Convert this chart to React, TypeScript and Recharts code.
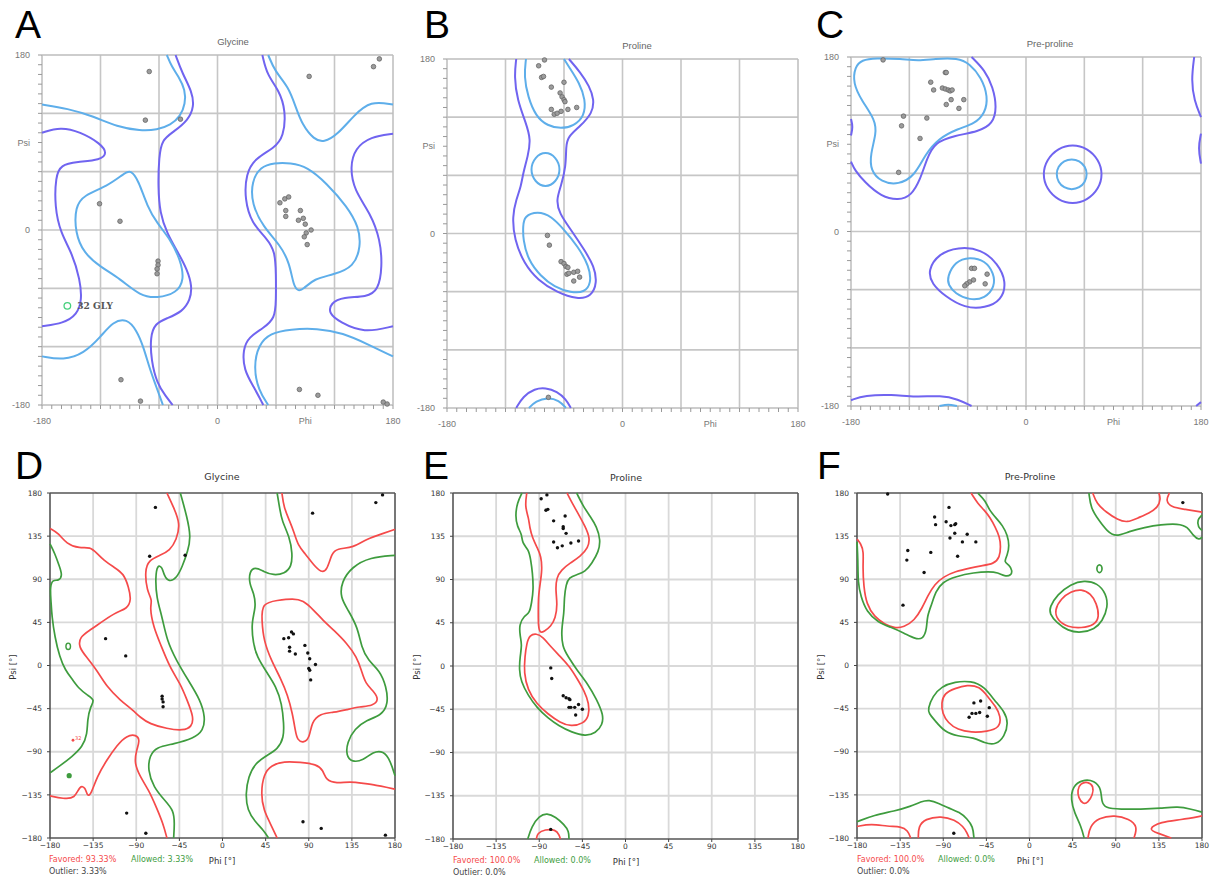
import React from "react";
import { ScatterChart, Scatter, XAxis, YAxis, ReferenceLine } from "recharts";

type Pt = [number, number];
type Contour = { pts: Pt[]; color: string; closed?: boolean };

// Contour colours: top row (PROCHECK-style) and bottom row (matplotlib-style)
const PURPLE = "#7064f0";
const SKY = "#5eaeea";
const RED = "#f54a4a";
const GREEN = "#3e9c3e";

const TOP_TICKS = [
  -180, -170, -160, -150, -140, -130, -120, -110, -100, -90, -80, -70, -60, -50, -40, -30, -20, -10,
  0, 10, 20, 30, 40, 50, 60, 70, 80, 90, 100, 110, 120, 130, 140, 150, 160, 170, 180,
];
const TOP_GRID = [-120, -60, 0, 60, 120];
const TOP_LABELED = [-180, 0, 180];
const BOTTOM_TICKS = [-180, -135, -90, -45, 0, 45, 90, 135, 180];
const BOTTOM_GRID = [-135, -90, -45, 0, 45, 90, 135];

// ---- A: Glycine ----
const A_SKY_TL: Pt[] = [[-180,129],[-154,125],[-127,117],[-103,106],[-79,102],[-62,103],[-48,108],[-38,117],[-33,130],[-33,144],[-40,158],[-47,168],[-52,180]];
const A_PURPLE_MID: Pt[] = [[-43,180],[-36,161],[-26,142],[-24,127],[-30,113],[-45,101],[-57,93],[-60,75],[-61,45],[-59,17],[-52,-3],[-40,-24],[-31,-41],[-26,-58],[-28,-72],[-36,-84],[-52,-91],[-64,-96],[-69,-110],[-68,-134],[-62,-158],[-53,-171],[-46,-180]];
const A_PURPLE_L: Pt[] = [[-180,-99],[-158,-96],[-144,-87],[-139,-72],[-141,-51],[-149,-24],[-161,-3],[-167,24],[-166,55],[-161,67],[-144,70],[-120,72],[-113,79],[-120,89],[-141,101],[-161,106],[-180,100]];
const A_SKY_L: Pt[] = [[-89,62],[-81,51],[-72,24],[-62,7],[-48,-10],[-38,-31],[-34,-51],[-42,-65],[-62,-70],[-79,-68],[-100,-50],[-120,-38],[-137,-24],[-146,-3],[-146,24],[-137,36],[-113,45],[-96,58]];
const A_SKY_BL: Pt[] = [[-180,-130],[-158,-134],[-137,-127],[-120,-110],[-107,-94],[-93,-91],[-83,-103],[-76,-120],[-70,-141],[-64,-158],[-56,-180]];
const A_PURPLE_R: Pt[] = [[46,180],[51,159],[63,144],[70,123],[68,96],[58,84],[39,74],[29,58],[28,31],[35,7],[51,-9],[59,-22],[60,-45],[60,-72],[59,-91],[47,-101],[32,-110],[26,-123],[27,-144],[37,-161],[47,-180]];
const A_SKY_R: Pt[] = [[58,69],[75,69],[92,65],[112,48],[133,24],[145,3],[147,-17],[140,-38],[119,-46],[99,-50],[88,-61],[83,-63],[78,-58],[74,-34],[64,-15],[47,3],[35,27],[35,50],[44,65]];
const A_SKY_TR: Pt[] = [[52,180],[59,163],[73,147],[80,127],[87,108],[99,93],[109,90],[123,98],[140,118],[157,133],[180,129]];
const A_PURPLE_RR: Pt[] = [[180,99],[157,96],[141,84],[136,65],[140,41],[157,17],[167,-10],[169,-38],[165,-62],[153,-69],[129,-69],[116,-75],[114,-86],[126,-95],[150,-106],[180,-99]];
const A_SKY_BR: Pt[] = [[180,-130],[153,-117],[129,-106],[102,-101],[75,-102],[54,-106],[42,-118],[37,-141],[42,-165],[52,-180]];
const A_DOTS: Pt[] = [[-70,163],[-74,113],[-38,114],[-121,27],[-100,9],[-61,-32],[-61,-36],[-62,-40],[-62,-45],[64,28],[69,32],[73,34],[70,20],[70,14],[85,20],[83,10],[88,12],[90,6],[96,0],[91,-3],[89,-7],[92,-15],[94,158],[160,168],[166,176],[84,-164],[103,-170],[170,-177],[174,-179],[-99,-154],[-79,-176]];
const A_OUTLIER: Pt[] = [[-154,-78]];

// ---- B: Proline ----
const B_PURPLE_TOP: Pt[] = [[-109,180],[-111,162],[-108,138],[-99,114],[-94,97],[-97,80],[-102,62],[-104,49],[-109,35],[-113,18],[-111,-6],[-101,-31],[-87,-48],[-67,-61],[-46,-68],[-32,-65],[-26,-51],[-29,-34],[-39,-17],[-53,4],[-65,21],[-68,35],[-63,49],[-58,69],[-58,90],[-56,100],[-43,111],[-31,124],[-29,138],[-34,152],[-43,166],[-55,180]];
const B_SKY_TOP: Pt[] = [[-99,180],[-101,162],[-97,141],[-89,121],[-77,111],[-63,108],[-50,111],[-39,121],[-38,138],[-44,155],[-55,172],[-60,180]];
const B_SKY_MID: Pt[] = [[-79,85],[-68,79],[-63,66],[-68,53],[-79,47],[-90,53],[-95,66],[-90,79]];
const B_SKY_LOW: Pt[] = [[-101,18],[-87,23],[-73,18],[-60,4],[-46,-13],[-34,-34],[-32,-51],[-39,-61],[-53,-61],[-70,-55],[-84,-44],[-97,-27],[-102,-6],[-102,7]];
const B_PURPLE_BOT: Pt[] = [[-109,-180],[-102,-168],[-90,-160],[-79,-159],[-67,-163],[-58,-171],[-53,-180]];
const B_SKY_BOT: Pt[] = [[-96,-180],[-89,-173],[-77,-169],[-65,-172],[-58,-180]];
const B_DOTS: Pt[] = [[-86,173],[-80,179],[-83,161],[-81,162],[-73,151],[-60,156],[-64,145],[-62,141],[-60,138],[-59,136],[-73,128],[-70,123],[-67,124],[-63,126],[-56,128],[-47,130],[-77,-2],[-75,-12],[-63,-29],[-60,-31],[-58,-34],[-56,-35],[-57,-42],[-55,-41],[-50,-40],[-46,-39],[-44,-45],[-50,-49],[-76,-169]];

// ---- C: Pre-proline ----
const C_SKY_TL: Pt[] = [[-176,170],[-178,153],[-169,135],[-155,115],[-154,101],[-160,80],[-160,63],[-149,51],[-131,48],[-114,58],[-104,79],[-90,96],[-70,106],[-53,111],[-42,122],[-39,139],[-46,159],[-58,173],[-70,179],[-94,178],[-111,176],[-128,178],[-155,179],[-169,177]];
const C_PURPLE_TL: Pt[] = [[-56,180],[-42,166],[-34,149],[-30,128],[-34,111],[-49,103],[-73,99],[-94,92],[-102,75],[-109,53],[-118,37],[-131,32],[-149,36],[-166,51],[-176,63],[-180,72]];
const C_PURPLE_EDGE_L: Pt[] = [[-180,116],[-178,108],[-180,99]];
const C_PURPLE_RING: Pt[] = [[79,59],[75,74],[63,86],[48,90],[33,86],[21,74],[17,59],[21,44],[33,32],[48,28],[63,32],[75,44]];
const C_SKY_RING: Pt[] = [[63,59],[61,67],[55,73],[47,75],[39,73],[33,67],[31,59],[33,51],[39,45],[47,43],[55,45],[61,51]];
const C_PURPLE_LOW: Pt[] = [[-101,-40],[-90,-23],[-70,-16],[-46,-18],[-29,-33],[-20,-52],[-25,-71],[-42,-79],[-63,-79],[-83,-67],[-97,-54]];
const C_SKY_LOW: Pt[] = [[-81,-47],[-73,-31],[-58,-26],[-42,-30],[-33,-43],[-32,-57],[-42,-69],[-58,-71],[-73,-64],[-80,-55]];
const C_PURPLE_BOT: Pt[] = [[-180,-174],[-166,-169],[-138,-168],[-114,-171],[-87,-169],[-70,-173],[-56,-180]];
const C_SKY_BOT: Pt[] = [[-89,-180],[-80,-178],[-71,-180]];
const C_PURPLE_EDGE_R1: Pt[] = [[173,180],[170,156],[173,135],[180,118]];
const C_PURPLE_EDGE_R2: Pt[] = [[180,101],[177,86],[180,70]];
const C_PURPLE_EDGE_R3: Pt[] = [[175,-180],[180,-176]];
const C_DOTS: Pt[] = [[-147,177],[-98,154],[-95,146],[-83,164],[-82,164],[-86,148],[-83,147],[-80,146],[-78,145],[-76,146],[-77,136],[-82,131],[-69,127],[-64,136],[-126,119],[-128,109],[-102,117],[-109,96],[-131,61],[-56,-38],[-53,-38],[-40,-44],[-42,-54],[-54,-50],[-58,-52],[-61,-54],[-63,-56]];

// ---- D: Glycine ----
const D_RED_L: Pt[] = [[-180,143],[-171,138],[-163,127],[-149,122],[-138,124],[-131,117],[-124,110],[-114,103],[-103,96],[-98,82],[-95,68],[-100,59],[-110,56],[-124,47],[-138,37],[-149,30],[-150,19],[-142,9],[-131,-5],[-121,-22],[-107,-36],[-93,-47],[-86,-54],[-76,-61],[-58,-66],[-41,-68],[-32,-64],[-30,-54],[-37,-36],[-44,-19],[-55,-2],[-65,23],[-72,40],[-76,61],[-73,68],[-79,78],[-81,99],[-77,110],[-65,115],[-55,120],[-48,131],[-44,148],[-51,165],[-58,180]];
const D_GREEN_MID: Pt[] = [[-44,180],[-37,155],[-33,134],[-36,120],[-42,103],[-48,91],[-56,87],[-61,94],[-63,103],[-68,105],[-70,92],[-69,71],[-63,51],[-58,26],[-48,5],[-36,-15],[-23,-36],[-18,-54],[-20,-68],[-30,-76],[-51,-82],[-69,-85],[-76,-94],[-78,-109],[-72,-127],[-60,-141],[-51,-151],[-50,-165],[-51,-180]];
const D_GREEN_L: Pt[] = [[-180,127],[-175,117],[-170,103],[-167,94],[-171,88],[-177,90],[-180,82],[-179,68],[-178,51],[-175,30],[-170,9],[-164,-5],[-157,-14],[-150,-24],[-141,-31],[-133,-36],[-138,-43],[-141,-57],[-141,-71],[-146,-85],[-157,-95],[-170,-105],[-180,-112]];
const D_RED_BL: Pt[] = [[-180,-136],[-166,-139],[-154,-139],[-149,-125],[-143,-127],[-141,-137],[-137,-134],[-131,-116],[-121,-99],[-110,-83],[-100,-73],[-90,-72],[-86,-78],[-90,-89],[-92,-102],[-86,-116],[-77,-130],[-69,-148],[-62,-165],[-58,-180]];
const D_RED_TR: Pt[] = [[62,180],[64,165],[70,151],[75,138],[79,125],[86,117],[95,105],[103,97],[109,99],[114,117],[119,122],[137,123],[150,132],[168,138],[180,142]];
const D_GREEN_R: Pt[] = [[57,180],[60,162],[62,151],[70,134],[73,117],[72,103],[65,96],[53,94],[43,98],[34,103],[28,98],[28,85],[33,75],[35,61],[30,45],[32,23],[36,9],[46,-7],[56,-22],[62,-40],[64,-61],[64,-75],[58,-87],[46,-94],[34,-102],[27,-116],[24,-134],[26,-151],[34,-163],[43,-172],[48,-180]];
const D_RED_R: Pt[] = [[41,65],[57,68],[74,70],[84,68],[95,58],[105,47],[116,37],[130,23],[140,9],[145,-5],[149,-19],[159,-28],[163,-36],[157,-42],[143,-43],[130,-46],[116,-49],[102,-50],[93,-59],[91,-75],[85,-81],[78,-78],[76,-68],[73,-50],[68,-31],[61,-14],[51,5],[43,26],[41,47]];
const D_GREEN_RR: Pt[] = [[180,115],[154,113],[135,103],[124,87],[123,71],[131,58],[141,40],[145,19],[152,5],[164,-5],[171,-22],[173,-40],[166,-52],[150,-57],[138,-66],[130,-80],[129,-94],[135,-101],[147,-99],[157,-90],[168,-89],[175,-99],[180,-115]];
const D_RED_BR: Pt[] = [[57,-180],[50,-165],[43,-151],[40,-134],[43,-113],[51,-104],[64,-100],[81,-101],[98,-103],[105,-109],[108,-120],[119,-123],[133,-121],[147,-123],[161,-125],[171,-127],[180,-129]];
const D_DOTS: Pt[] = [[-70,165],[-76,114],[-39,115],[-122,28],[-101,10],[-63,-32],[-63,-35],[-62,-38],[-62,-43],[64,28],[69,29],[72,35],[74,33],[70,19],[70,15],[76,12],[86,21],[89,13],[91,7],[97,1],[90,-3],[91,-5],[92,-15],[94,159],[160,170],[167,178],[84,-163],[103,-170],[170,-177],[-100,-154],[-80,-175]];
const D_GREEN_RING: Pt[] = [[-161,20]];
const D_GREEN_SPOT: Pt[] = [[-160,-115]];
const D_OUTLIER: Pt[] = [[-156,-78]];

// ---- E: Proline ----
const E_GREEN_TOP: Pt[] = [[-108,180],[-113,170],[-115,156],[-113,145],[-108,137],[-108,128],[-101,121],[-99,111],[-97,97],[-96,79],[-98,66],[-100,55],[-106,52],[-111,43],[-110,31],[-108,22],[-110,10],[-111,-4],[-109,-16],[-102,-30],[-92,-44],[-81,-54],[-70,-62],[-56,-69],[-42,-73],[-31,-70],[-24,-61],[-23,-51],[-30,-35],[-39,-19],[-51,-4],[-60,10],[-66,20],[-67,38],[-64,55],[-64,71],[-62,85],[-59,92],[-51,95],[-42,98],[-35,107],[-28,119],[-26,131],[-30,145],[-37,156],[-44,166],[-51,180]];
const E_RED_TOP: Pt[] = [[-103,180],[-105,166],[-101,154],[-100,144],[-97,133],[-92,123],[-88,114],[-87,100],[-89,86],[-91,72],[-91,55],[-91,41],[-89,34],[-85,36],[-78,41],[-73,50],[-71,64],[-73,79],[-72,92],[-67,100],[-58,107],[-47,114],[-39,123],[-37,133],[-42,145],[-49,158],[-56,170],[-61,180]];
const E_RED_LOW: Pt[] = [[-100,32],[-93,34],[-86,30],[-78,20],[-68,10],[-58,-1],[-50,-14],[-43,-26],[-38,-39],[-38,-52],[-44,-60],[-57,-63],[-68,-59],[-81,-50],[-93,-39],[-102,-25],[-106,-7],[-105,10],[-103,24]];
const E_GREEN_BOT: Pt[] = [[-102,-180],[-98,-167],[-90,-156],[-82,-153],[-73,-157],[-64,-165],[-59,-172],[-59,-180]];
const E_RED_BOT: Pt[] = [[-93,-180],[-92,-174],[-84,-170],[-73,-170],[-69,-176],[-68,-180]];
const E_DOTS: Pt[] = [[-88,174],[-82,178],[-83,162],[-81,163],[-75,151],[-63,156],[-65,145],[-65,143],[-62,138],[-75,129],[-71,123],[-66,125],[-57,128],[-49,130],[-78,-2],[-77,-13],[-65,-31],[-62,-33],[-59,-34],[-58,-35],[-59,-43],[-57,-43],[-53,-43],[-49,-40],[-45,-45],[-52,-51],[-78,-170]];

// ---- F: Pre-Proline ----
const F_RED_TL: Pt[] = [[-61,180],[-54,169],[-47,162],[-41,154],[-36,145],[-31,134],[-30,124],[-31,113],[-37,106],[-51,104],[-61,102],[-78,98],[-89,93],[-99,85],[-106,73],[-112,60],[-120,47],[-131,40],[-141,39],[-151,43],[-162,51],[-170,64],[-173,82],[-174,103],[-173,119],[-176,127],[-180,132]];
const F_GREEN_TL: Pt[] = [[-54,180],[-46,172],[-42,162],[-35,154],[-28,146],[-23,136],[-21,125],[-23,115],[-27,108],[-21,105],[-18,99],[-19,94],[-26,93],[-33,97],[-42,98],[-58,97],[-77,93],[-91,87],[-98,77],[-102,64],[-107,51],[-107,39],[-111,27],[-120,28],[-131,34],[-145,40],[-158,45],[-170,56],[-176,72],[-179,86],[-179,110],[-180,129]];
const F_RED_RC: Pt[] = [[26,58],[33,70],[43,77],[54,80],[64,75],[70,65],[73,51],[68,42],[54,39],[40,40],[29,47]];
const F_GREEN_RC: Pt[] = [[21,61],[29,74],[43,85],[57,89],[71,86],[80,75],[82,61],[76,46],[68,38],[54,34],[40,36],[28,45],[21,54]];
const F_GREEN_SPECK: Pt[] = [[77,101],[73,107],[69,101],[73,95]];
const F_RED_LOW: Pt[] = [[-92,-39],[-89,-29],[-78,-24],[-65,-20],[-52,-22],[-44,-32],[-35,-43],[-30,-53],[-31,-65],[-44,-69],[-61,-70],[-75,-67],[-85,-60],[-91,-50]];
const F_GREEN_LOW: Pt[] = [[-106,-45],[-101,-32],[-92,-22],[-78,-17],[-61,-16],[-47,-22],[-37,-36],[-26,-48],[-22,-60],[-26,-74],[-35,-83],[-47,-81],[-58,-75],[-75,-74],[-89,-69],[-99,-57],[-105,-50]];
const F_RED_TR1: Pt[] = [[66,180],[70,169],[80,160],[92,152],[102,149],[113,154],[125,159],[134,165],[137,174],[135,180]];
const F_RED_TR2: Pt[] = [[146,180],[142,172],[148,165],[162,163],[180,160]];
const F_GREEN_TR: Pt[] = [[62,180],[64,164],[72,152],[81,140],[90,134],[104,140],[120,144],[137,147],[155,148],[165,145],[171,135],[177,131],[180,134]];
const F_GREEN_TR_EDGE: Pt[] = [[180,157],[175,152],[176,144],[180,141]];
const F_GREEN_BR: Pt[] = [[57,-180],[54,-168],[47,-154],[43,-140],[45,-126],[55,-119],[68,-120],[75,-129],[75,-142],[79,-149],[95,-150],[116,-150],[137,-149],[155,-147],[169,-150],[180,-153]];
const F_RED_DROP: Pt[] = [[50,-130],[53,-123],[61,-121],[67,-126],[66,-135],[61,-143],[56,-145],[51,-138]];
const F_RED_BR1: Pt[] = [[61,-180],[63,-168],[72,-159],[89,-156],[104,-160],[113,-168],[109,-180]];
const F_RED_BR2: Pt[] = [[180,-157],[158,-161],[137,-163],[123,-171],[134,-175],[148,-180]];
const F_GREEN_BL: Pt[] = [[-180,-163],[-162,-156],[-141,-152],[-124,-147],[-113,-142],[-105,-140],[-94,-144],[-84,-149],[-73,-153],[-65,-160],[-59,-168],[-58,-180]];
const F_RED_BL1: Pt[] = [[-180,-168],[-165,-165],[-148,-168],[-134,-168],[-127,-172],[-124,-180]];
const F_RED_BL2: Pt[] = [[-116,-180],[-116,-168],[-109,-160],[-92,-157],[-78,-161],[-69,-168],[-65,-175],[-63,-180]];
const F_DOTS: Pt[] = [[-148,179],[-99,155],[-98,147],[-87,150],[-84,165],[-82,146],[-78,147],[-77,148],[-78,138],[-83,133],[-70,129],[-65,137],[-56,129],[-75,114],[-127,120],[-128,110],[-103,118],[-110,97],[-132,63],[-58,-39],[-51,-37],[-42,-44],[-44,-53],[-52,-49],[-56,-50],[-60,-50],[-63,-54],[160,170],[-79,-175]];

const xy = (pts: Pt[]) => pts.map(([x, y]) => ({ x, y }));

const noMark = () => <g />;
const topDot = (p: any) => <circle cx={p.cx} cy={p.cy} r={2.3} fill="#9c9c9c" stroke="#666" strokeWidth={0.8} />;
const bottomDot = (p: any) => <circle cx={p.cx} cy={p.cy} r={1.7} fill="#111" />;

type Box = { x: number; y: number; w: number; h: number };
const PAD = { l: 40, t: 14, r: 14, b: 28 };

function RamaPanel(props: {
  box: Box;
  kind: "top" | "bottom";
  contours: Contour[];
  dots: Pt[];
  extras?: React.ReactNode[];
}) {
  const { box, kind, contours, dots, extras } = props;
  const top = kind === "top";
  const ticks = top ? TOP_TICKS : BOTTOM_TICKS;
  const grid = top ? TOP_GRID : BOTTOM_GRID;
  const gridStroke = top ? "#c6c6c6" : "#d9d9d9";
  const frame = top ? "#bdbdbd" : "#555";
  const tickFont = top
    ? { fontSize: 9, fill: "#777", fontFamily: "Liberation Sans, Arial, sans-serif" }
    : { fontSize: 7.5, fill: "#333", fontFamily: "DejaVu Sans, sans-serif" };
  const fmt = (name: string) => (v: number) => {
    if (!top) return String(v).replace("-", "\u2212");
    if (v === 90) return name;
    return TOP_LABELED.includes(v) ? String(v) : "";
  };

  return (
    <div style={{ position: "absolute", left: box.x - PAD.l, top: box.y - PAD.t }}>
      <ScatterChart
        width={box.w + PAD.l + PAD.r}
        height={box.h + PAD.t + PAD.b}
        margin={{ top: PAD.t, right: PAD.r, bottom: 0, left: 0 }}
      >
        <XAxis
          type="number"
          dataKey="x"
          domain={[-180, 180]}
          ticks={ticks}
          interval={0}
          height={PAD.b}
          tickSize={top ? 4 : 3}
          tickMargin={top ? 9 : 2}
          tick={tickFont}
          tickFormatter={fmt("Phi")}
          tickLine={{ stroke: top ? "#999" : "#444" }}
          axisLine={{ stroke: frame, strokeWidth: top ? 1.5 : 1.6 }}
        />
        <YAxis
          type="number"
          dataKey="y"
          domain={[-180, 180]}
          ticks={ticks}
          interval={0}
          width={PAD.l}
          tickSize={top ? 4 : 3}
          tickMargin={top ? 8 : 5}
          tick={tickFont}
          tickFormatter={fmt("Psi")}
          tickLine={{ stroke: top ? "#999" : "#444" }}
          axisLine={{ stroke: frame, strokeWidth: top ? 1.5 : 1.6 }}
        />
        {grid.map((v) => (
          <ReferenceLine key={"gx" + v} x={v} stroke={gridStroke} strokeWidth={top ? 1.6 : 1.8} />
        ))}
        {grid.map((v) => (
          <ReferenceLine key={"gy" + v} y={v} stroke={gridStroke} strokeWidth={top ? 1.6 : 1.8} />
        ))}
        <ReferenceLine x={180} stroke={frame} strokeWidth={top ? 1.5 : 1.6} />
        <ReferenceLine y={180} stroke={frame} strokeWidth={top ? 1.5 : 1.6} />
        {contours.map((c, i) => (
          <Scatter
            key={"c" + i}
            data={xy(c.pts)}
            fill={c.color}
            line={{ stroke: c.color, strokeWidth: top ? 2 : 1.7 }}
            lineJointType={c.closed ? "basisClosed" : "basis"}
            shape={noMark}
            isAnimationActive={false}
          />
        ))}
        <Scatter data={xy(dots)} shape={top ? topDot : bottomDot} isAnimationActive={false} />
        {extras}
      </ScatterChart>
    </div>
  );
}

const Label = ({ x, y, text, size, color, family, rotate, anchor }: any) => (
  <div
    style={{
      position: "absolute",
      left: x,
      top: y,
      transform: `translate(${anchor === "start" ? "0" : "-50%"}, -50%)${rotate ? " rotate(-90deg)" : ""}`,
      fontSize: size,
      color,
      fontFamily: family,
      whiteSpace: "nowrap",
      lineHeight: 1.2,
    }}
  >
    {text}
  </div>
);

// Panel letters: 39px glyphs, baseline about 28.5px below the box top
const Letter = ({ x, y, ch }: { x: number; y: number; ch: string }) => (
  <div
    style={{
      position: "absolute",
      left: x,
      top: y,
      fontSize: 39,
      lineHeight: "30px",
      height: 30,
      fontFamily: "Liberation Sans, Arial, sans-serif",
      color: "#000",
    }}
  >
    {ch}
  </div>
);

const SANS = "Liberation Sans, Arial, sans-serif";
const MPL = "DejaVu Sans, sans-serif";

export default function App() {
  const aOutlier = (
    <Scatter
      key="a-out"
      data={xy(A_OUTLIER)}
      isAnimationActive={false}
      shape={(p: any) => (
        <g>
          <circle cx={p.cx} cy={p.cy} r={3.3} fill="none" stroke="#46d07c" strokeWidth={1.3} />
          <text x={p.cx + 10} y={p.cy + 3.5} fontSize={9} fontWeight="bold" fill="#555" fontFamily="DejaVu Serif, serif">
            32 GLY
          </text>
        </g>
      )}
    />
  );
  const dMarks = [
    <Scatter
      key="d-ring"
      data={xy(D_GREEN_RING)}
      isAnimationActive={false}
      shape={(p: any) => <ellipse cx={p.cx} cy={p.cy} rx={2.3} ry={3.2} fill="none" stroke={GREEN} strokeWidth={1.4} />}
    />,
    <Scatter
      key="d-spot"
      data={xy(D_GREEN_SPOT)}
      isAnimationActive={false}
      shape={(p: any) => <circle cx={p.cx} cy={p.cy} r={2.6} fill={GREEN} />}
    />,
    <Scatter
      key="d-out"
      data={xy(D_OUTLIER)}
      isAnimationActive={false}
      shape={(p: any) => (
        <g>
          <circle cx={p.cx} cy={p.cy} r={1.4} fill={RED} />
          <text x={p.cx + 2} y={p.cy - 0.5} fontSize={5} fill={RED} fontFamily={MPL}>
            32
          </text>
        </g>
      )}
    />,
  ];

  return (
    <div style={{ position: "relative", width: 1212, height: 877, background: "#fff", overflow: "hidden" }}>
      <style>{"body{margin:0}"}</style>

      <Letter x={15} y={10} ch="A" />
      <Letter x={424} y={10} ch="B" />
      <Letter x={816} y={10} ch="C" />
      <Letter x={15} y={451} ch="D" />
      <Letter x={423} y={451} ch="E" />
      <Letter x={817} y={451} ch="F" />

      <Label x={233} y={42} text="Glycine" size={9.5} color="#666" family={SANS} />
      <Label x={637} y={46} text="Proline" size={9.5} color="#666" family={SANS} />
      <Label x={1050} y={44} text="Pre-proline" size={9.5} color="#666" family={SANS} />
      <Label x={222} y={477} text="Glycine" size={9.5} color="#333" family={MPL} />
      <Label x={626} y={478} text="Proline" size={9.5} color="#333" family={MPL} />
      <Label x={1030} y={477} text="Pre-Proline" size={9.5} color="#333" family={MPL} />

      <RamaPanel
        box={{ x: 42, y: 55, w: 351, h: 350 }}
        kind="top"
        contours={[
          { pts: A_SKY_TL, color: SKY },
          { pts: A_PURPLE_MID, color: PURPLE },
          { pts: A_PURPLE_L, color: PURPLE },
          { pts: A_SKY_L, color: SKY, closed: true },
          { pts: A_SKY_BL, color: SKY },
          { pts: A_PURPLE_R, color: PURPLE },
          { pts: A_SKY_R, color: SKY, closed: true },
          { pts: A_SKY_TR, color: SKY },
          { pts: A_PURPLE_RR, color: PURPLE },
          { pts: A_SKY_BR, color: SKY },
        ]}
        dots={A_DOTS}
        extras={[aOutlier]}
      />
      <RamaPanel
        box={{ x: 447, y: 59, w: 351, h: 349 }}
        kind="top"
        contours={[
          { pts: B_PURPLE_TOP, color: PURPLE },
          { pts: B_SKY_TOP, color: SKY },
          { pts: B_SKY_MID, color: SKY, closed: true },
          { pts: B_SKY_LOW, color: SKY, closed: true },
          { pts: B_PURPLE_BOT, color: PURPLE },
          { pts: B_SKY_BOT, color: SKY },
        ]}
        dots={B_DOTS}
      />
      <RamaPanel
        box={{ x: 851, y: 57, w: 350, h: 349 }}
        kind="top"
        contours={[
          { pts: C_SKY_TL, color: SKY, closed: true },
          { pts: C_PURPLE_TL, color: PURPLE },
          { pts: C_PURPLE_EDGE_L, color: PURPLE },
          { pts: C_PURPLE_RING, color: PURPLE, closed: true },
          { pts: C_SKY_RING, color: SKY, closed: true },
          { pts: C_PURPLE_LOW, color: PURPLE, closed: true },
          { pts: C_SKY_LOW, color: SKY, closed: true },
          { pts: C_PURPLE_BOT, color: PURPLE },
          { pts: C_SKY_BOT, color: SKY },
          { pts: C_PURPLE_EDGE_R1, color: PURPLE },
          { pts: C_PURPLE_EDGE_R2, color: PURPLE },
          { pts: C_PURPLE_EDGE_R3, color: PURPLE },
        ]}
        dots={C_DOTS}
      />

      <RamaPanel
        box={{ x: 50, y: 493, w: 345, h: 345 }}
        kind="bottom"
        contours={[
          { pts: D_RED_L, color: RED },
          { pts: D_GREEN_MID, color: GREEN },
          { pts: D_GREEN_L, color: GREEN },
          { pts: D_RED_BL, color: RED },
          { pts: D_RED_TR, color: RED },
          { pts: D_GREEN_R, color: GREEN },
          { pts: D_RED_R, color: RED, closed: true },
          { pts: D_GREEN_RR, color: GREEN },
          { pts: D_RED_BR, color: RED },
        ]}
        dots={D_DOTS}
        extras={dMarks}
      />
      <RamaPanel
        box={{ x: 453, y: 493, w: 345, h: 346 }}
        kind="bottom"
        contours={[
          { pts: E_GREEN_TOP, color: GREEN },
          { pts: E_RED_TOP, color: RED },
          { pts: E_RED_LOW, color: RED, closed: true },
          { pts: E_GREEN_BOT, color: GREEN },
          { pts: E_RED_BOT, color: RED },
        ]}
        dots={E_DOTS}
      />
      <RamaPanel
        box={{ x: 857, y: 493, w: 345, h: 345 }}
        kind="bottom"
        contours={[
          { pts: F_RED_TL, color: RED },
          { pts: F_GREEN_TL, color: GREEN },
          { pts: F_RED_RC, color: RED, closed: true },
          { pts: F_GREEN_RC, color: GREEN, closed: true },
          { pts: F_GREEN_SPECK, color: GREEN, closed: true },
          { pts: F_RED_LOW, color: RED, closed: true },
          { pts: F_GREEN_LOW, color: GREEN, closed: true },
          { pts: F_RED_TR1, color: RED },
          { pts: F_RED_TR2, color: RED },
          { pts: F_GREEN_TR, color: GREEN },
          { pts: F_GREEN_TR_EDGE, color: GREEN },
          { pts: F_GREEN_BR, color: GREEN },
          { pts: F_RED_DROP, color: RED, closed: true },
          { pts: F_RED_BR1, color: RED },
          { pts: F_RED_BR2, color: RED },
          { pts: F_GREEN_BL, color: GREEN },
          { pts: F_RED_BL1, color: RED },
          { pts: F_RED_BL2, color: RED },
        ]}
        dots={F_DOTS}
      />

      {/* bottom-row axis names and region statistics */}
      <Label x={13} y={667} text="Psi [°]" size={8.5} color="#333" family={MPL} rotate />
      <Label x={417} y={667} text="Psi [°]" size={8.5} color="#333" family={MPL} rotate />
      <Label x={821} y={667} text="Psi [°]" size={8.5} color="#333" family={MPL} rotate />
      <Label x={222} y={861} text="Phi [°]" size={8.5} color="#333" family={MPL} />
      <Label x={626} y={862} text="Phi [°]" size={8.5} color="#333" family={MPL} />
      <Label x={1030} y={861} text="Phi [°]" size={8.5} color="#333" family={MPL} />

      <Label x={49} y={860} text="Favored: 93.33%" size={8} color={RED} family={MPL} anchor="start" />
      <Label x={131} y={860} text="Allowed: 3.33%" size={8} color={GREEN} family={MPL} anchor="start" />
      <Label x={49} y={872} text="Outlier: 3.33%" size={8} color="#444" family={MPL} anchor="start" />
      <Label x={453} y={861} text="Favored: 100.0%" size={8} color={RED} family={MPL} anchor="start" />
      <Label x={534} y={861} text="Allowed: 0.0%" size={8} color={GREEN} family={MPL} anchor="start" />
      <Label x={453} y={873} text="Outlier: 0.0%" size={8} color="#444" family={MPL} anchor="start" />
      <Label x={857} y={860} text="Favored: 100.0%" size={8} color={RED} family={MPL} anchor="start" />
      <Label x={938} y={860} text="Allowed: 0.0%" size={8} color={GREEN} family={MPL} anchor="start" />
      <Label x={857} y={872} text="Outlier: 0.0%" size={8} color="#444" family={MPL} anchor="start" />
    </div>
  );
}
